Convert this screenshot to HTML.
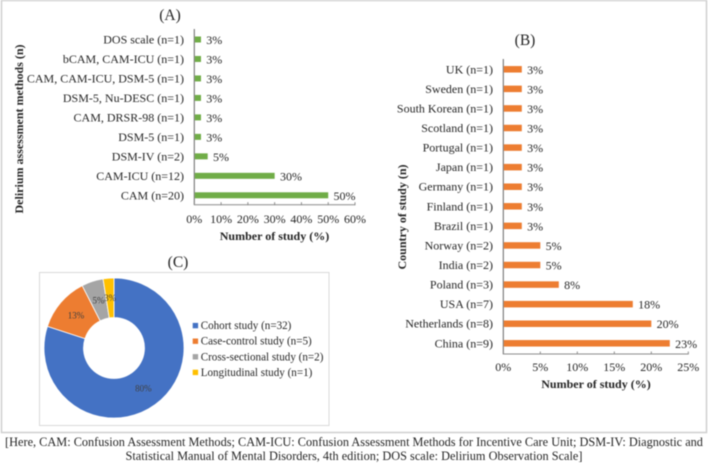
<!DOCTYPE html>
<html lang="en">
<head>
<meta charset="utf-8">
<title>Delirium study charts</title>
<style>
html,body{margin:0;padding:0;background:#fff;width:708px;height:463px;overflow:hidden}
svg{display:block;filter:blur(0.4px)}
text{font-family:"Liberation Serif",serif;fill:#262626}
</style>
</head>
<body>
<svg id="fig" xmlns="http://www.w3.org/2000/svg" width="708" height="463" viewBox="0 0 708 463">
  <rect x="1.5" y="0.5" width="705" height="432" fill="#fff" stroke="#cfcfcf" stroke-width="1.5"/>
  <text x="170" y="20" font-size="15.5" text-anchor="middle">(A)</text>
  <text x="525" y="45" font-size="15.5" text-anchor="middle">(B)</text>
  <text x="178" y="267" font-size="15.5" text-anchor="middle">(C)</text>
  <text x="274.5" y="240" font-size="12" font-weight="bold" text-anchor="middle">Number of study (%)</text>
  <text x="596" y="388" font-size="12" font-weight="bold" text-anchor="middle">Number of study (%)</text>
  <text transform="translate(23,129) rotate(-90)" font-size="12" font-weight="bold" text-anchor="middle">Delirium assessment methods (n)</text>
  <text transform="translate(406,217) rotate(-90)" font-size="12" font-weight="bold" text-anchor="middle">Country of study (n)</text>
  <rect x="39.5" y="272.5" width="289.5" height="153" fill="#fff" stroke="#d9d9d9" stroke-width="1"/>
  <text x="354" y="446" font-size="12.3" text-anchor="middle">[Here, CAM: Confusion Assessment Methods; CAM-ICU: Confusion Assessment Methods for Incentive Care Unit; DSM-IV: Diagnostic and</text>
  <text x="354" y="460" font-size="12.3" text-anchor="middle">Statistical Manual of Mental Disorders, 4th edition; DOS scale: Delirium Observation Scale]</text>
</svg>
<script>
const aCategories = ["DOS scale (n=1)","bCAM, CAM-ICU (n=1)","CAM, CAM-ICU, DSM-5 (n=1)","DSM-5, Nu-DESC (n=1)","CAM, DRSR-98 (n=1)","DSM-5 (n=1)","DSM-IV (n=2)","CAM-ICU (n=12)","CAM (n=20)"];
const aValues = [2.5,2.5,2.5,2.5,2.5,2.5,5,30,50];
const aTicks = [0,10,20,30,40,50,60];
const bCategories = ["UK (n=1)","Sweden (n=1)","South Korean (n=1)","Scotland (n=1)","Portugal (n=1)","Japan (n=1)","Germany (n=1)","Finland (n=1)","Brazil (n=1)","Norway (n=2)","India (n=2)","Poland (n=3)","USA (n=7)","Netherlands (n=8)","China (n=9)"];
const bValues = [2.5,2.5,2.5,2.5,2.5,2.5,2.5,2.5,2.5,5,5,7.5,17.5,20,22.5];
const bTicks = [0,5,10,15,20,25];
const cCategories = ["Cohort study (n=32)","Case-control study (n=5)","Cross-sectional study (n=2)","Longitudinal study (n=1)"];
const cValues = [80,12.5,5,2.5];

const NS = "http://www.w3.org/2000/svg";
const fig = document.getElementById("fig");
function mk(tag, attrs, text) {
  const el = document.createElementNS(NS, tag);
  for (const k in attrs) el.setAttribute(k, attrs[k]);
  if (text !== undefined) el.textContent = text;
  fig.appendChild(el);
  return el;
}
function pct(v) { return Math.round(v) + "%"; }

function barChart(prefix, cats, vals, ticks, x0, xMax, maxVal, top, bottom, firstC, lastC, color, barH, catX, tickY) {
  const xs = v => x0 + (v / maxVal) * (xMax - x0);
  const ys = i => firstC + i * (lastC - firstC) / (cats.length - 1);
  const yLine = mk("line", {x1:x0, x2:x0, y1:top, y2:bottom, stroke:"#666", "stroke-width":1});
  
  
  const xLine = mk("line", {x1:x0, x2:xs(maxVal), y1:bottom, y2:bottom, stroke:"#8c8c8c", "stroke-width":1});
  
  
  ticks.forEach(t => {
    const tm = mk("line", {x1:xs(t), x2:xs(t), y1:bottom - 2.5, y2:bottom + 0.5, stroke:"#8c8c8c", "stroke-width":1});
    
    
    const tl = mk("text", {x:xs(t), y:tickY, "font-size":12, "text-anchor":"middle"}, t + "%");
    
    
  });
  cats.forEach((c, i) => {
    const y = ys(i);
    const cl = mk("text", {x:catX, y:y + 4, "font-size":12, "text-anchor":"end"}, c);
    
    
    const bar = mk("rect", {x:x0 + 0.5, y:y - barH / 2, width:xs(vals[i]) - x0 - 0.5, height:barH, fill:color});
    
    
    const vl = mk("text", {x:xs(vals[i]) + 5.3, y:y + 4.5, "font-size":12}, pct(vals[i]));
    
    
  });
}
barChart("chart-a", aCategories, aValues, aTicks, 194.3, 355, 60, 29, 204.7, 39.5, 195.3, "#70ad47", 6, 184, 223);
barChart("chart-b", bCategories, bValues, bTicks, 503.3, 688.3, 25, 59, 354, 69.3, 343.3, "#ed7d31", 6.5, 493, 371);

const cColors = ["#4472c4","#ed7d31","#a5a5a5","#ffc000"];
const cx = 114, cy = 348, rO = 70, rI = 30.5, rM = 50;
const cTotal = cValues.reduce((a, b) => a + b, 0);
let cum = 0;
cValues.forEach((v, i) => {
  const a0 = cum / cTotal * 2 * Math.PI;
  cum += v;
  const a1 = cum / cTotal * 2 * Math.PI;
  const large = (a1 - a0) > Math.PI ? 1 : 0;
  const p = (r, a) => (cx + r * Math.sin(a)).toFixed(2) + " " + (cy - r * Math.cos(a)).toFixed(2);
  const d = "M" + p(rO, a0) + " A" + rO + " " + rO + " 0 " + large + " 1 " + p(rO, a1) +
            " L" + p(rI, a1) + " A" + rI + " " + rI + " 0 " + large + " 0 " + p(rI, a0) + " Z";
  const s = mk("path", {d:d, fill:cColors[i], stroke:"#fff", "stroke-width":0.8});
  
  
});
cum = 0;
cValues.forEach((v, i) => {
  const mid = (cum + v / 2) / cTotal * 2 * Math.PI;
  cum += v;
  const l = mk("text", {x:cx + rM * Math.sin(mid), y:cy - rM * Math.cos(mid) + 3, "font-size":9, "text-anchor":"middle", style:"fill:#404040"}, pct(v));
  
  
});
cCategories.forEach((c, i) => {
  const y = 325.6 + i * 15.6;
  const sw = mk("rect", {x:192.7, y:y - 2.7, width:5.4, height:5.4, fill:cColors[i]});
  
  
  const t = mk("text", {x:200.7, y:y + 3.5, "font-size":11.1}, c);
  
  
});
</script>
</body>
</html>
